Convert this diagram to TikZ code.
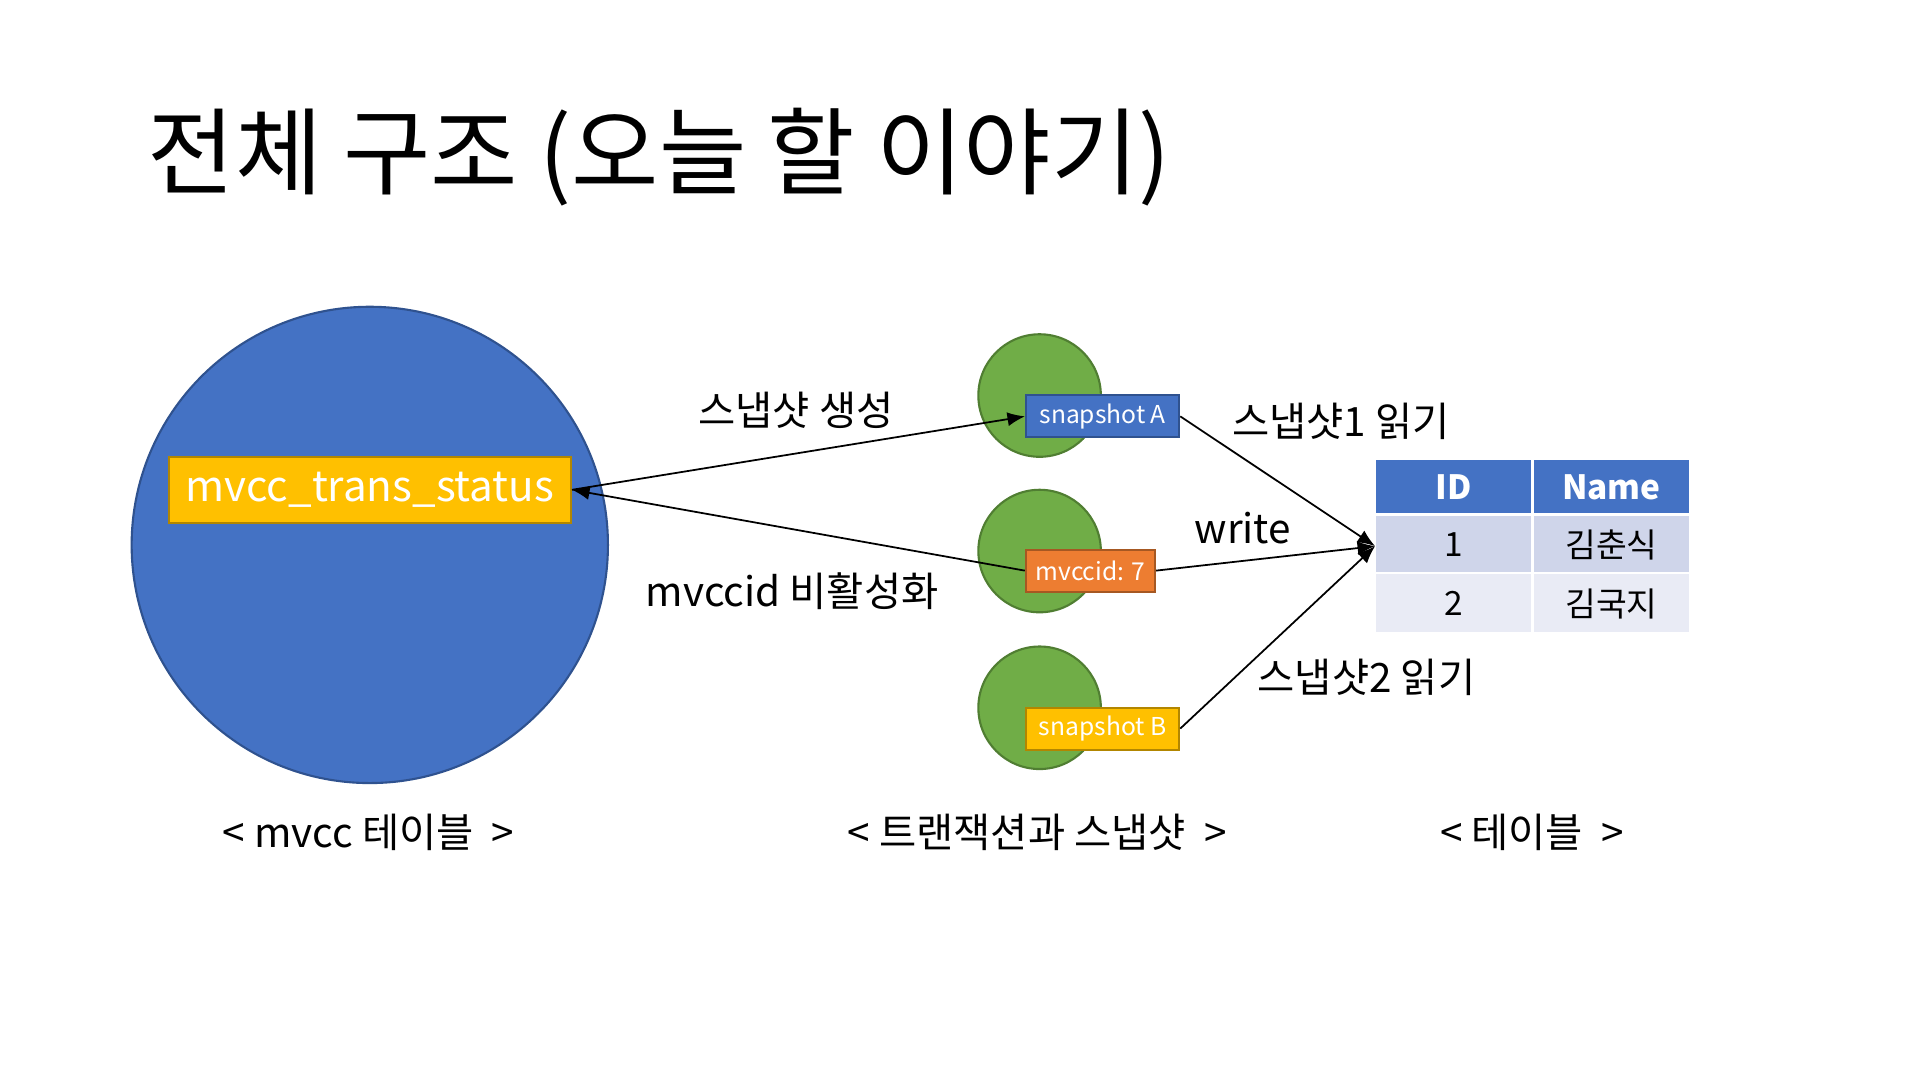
\documentclass[tikz,border=0pt]{standalone}
\usepackage{fontspec}
\setmainfont{Noto Sans CJK KR}
\usetikzlibrary{arrows.meta}
\definecolor{blu}{HTML}{4472C4}
\definecolor{blud}{HTML}{2F528F}
\definecolor{gold}{HTML}{FFC000}
\definecolor{grn}{HTML}{70AD47}
\definecolor{grnd}{HTML}{507E32}
\definecolor{org}{HTML}{ED7D31}
\definecolor{r1}{HTML}{CFD5EA}
\definecolor{r2}{HTML}{E9EBF5}
\begin{document}
\begin{tikzpicture}[x=0.012245cm,y=-0.012245cm,
 lbl/.style={font=\fontsize{11.5pt}{13pt}\selectfont,inner sep=0},
 small/.style={draw=blud,line width=0.6pt,minimum width=125\pgflinewidth,text=white,font=\fontsize{7pt}{8pt}\selectfont,inner sep=0},
 gc/.style={circle,fill=grn,draw=grnd,line width=0.6pt,minimum size=1.2245cm,inner sep=0},
 cell/.style={minimum width=3.05cm*0.5,inner sep=0,font=\fontsize{9.5pt}{11pt}\selectfont},
 arr/.style={-{Latex[length=5pt,width=4pt]},line width=0.5pt}]
\fill[white] (0,0) rectangle (1568,882);
\node[anchor=west,inner sep=0,font=\fontsize{27pt}{30pt}\selectfont] (title) at (120,128) {전체 구조 (오늘 할 이야기)};
\node[circle,fill=blu,draw=blud,line width=0.6pt,minimum size=4.76cm,inner sep=0] (big) at (302,445) {};
\node[fill=gold,draw=gold!70!black,line width=0.6pt,minimum width=4.02cm,minimum height=0.66cm,inner sep=0,text=white,font=\fontsize{12pt}{14pt}\selectfont] (st) at (302,400) {mvcc\_trans\_status};
\node[gc] (g1) at (849,323) {};
\node[gc] (g2) at (849,450) {};
\node[gc] (g3) at (849,578) {};
\node[small,fill=blu,minimum width=1.53cm,minimum height=0.42cm] (sa) at (900.5,340) {snapshot A};
\node[small,fill=org,draw=org!70!black,minimum width=1.29cm,minimum height=0.42cm] (mv) at (890.5,466) {mvccid: 7};
\node[small,fill=gold,draw=gold!70!black,minimum width=1.53cm,minimum height=0.42cm] (sb) at (900.5,595) {snapshot B};
% table
\fill[blu] (1124,376) rectangle (1250,419);
\fill[blu] (1253,376) rectangle (1379,419);
\fill[r1] (1124,421) rectangle (1250,467);
\fill[r1] (1253,421) rectangle (1379,467);
\fill[r2] (1124,469) rectangle (1250,516);
\fill[r2] (1253,469) rectangle (1379,516);
\node[cell,text=white,font=\bfseries\fontsize{9.5pt}{11pt}\selectfont] (h1) at (1187,398) {ID};
\node[cell,text=white,font=\bfseries\fontsize{9.5pt}{11pt}\selectfont] (h2) at (1316,398) {Name};
\node[cell] (c11) at (1187,445) {1};
\node[cell] (c12) at (1316,445) {김춘식};
\node[cell] (c21) at (1187,493) {2};
\node[cell] (c22) at (1316,493) {김국지};
\coordinate (tp) at (1123,446);
\draw[arr] (st.east) -- (sa.west);
\draw[arr] (mv.west) -- (st.east);
\draw[arr] (sa.east) -- (tp);
\draw[arr] (mv.east) -- (tp);
\draw[arr] (sb.east) -- (tp);
\node[lbl] (l1) at (650,335) {스냅샷 생성};
\node[lbl] (l2) at (647,483) {mvccid 비활성화};
\node[lbl] (l3) at (1095,344) {스냅샷1 읽기};
\node[lbl] (l4) at (1015,431) {write};
\node[lbl] (l5) at (1116,553) {스냅샷2 읽기};
\node[lbl] (b1) at (301,680) {<\ mvcc 테이블 \ >};
\node[lbl] (b2) at (847,680) {<\ 트랜잭션과 스냅샷 \ >};
\node[lbl] (b3) at (1251,680) {<\ 테이블 \ >};
\end{tikzpicture}
\end{document}
